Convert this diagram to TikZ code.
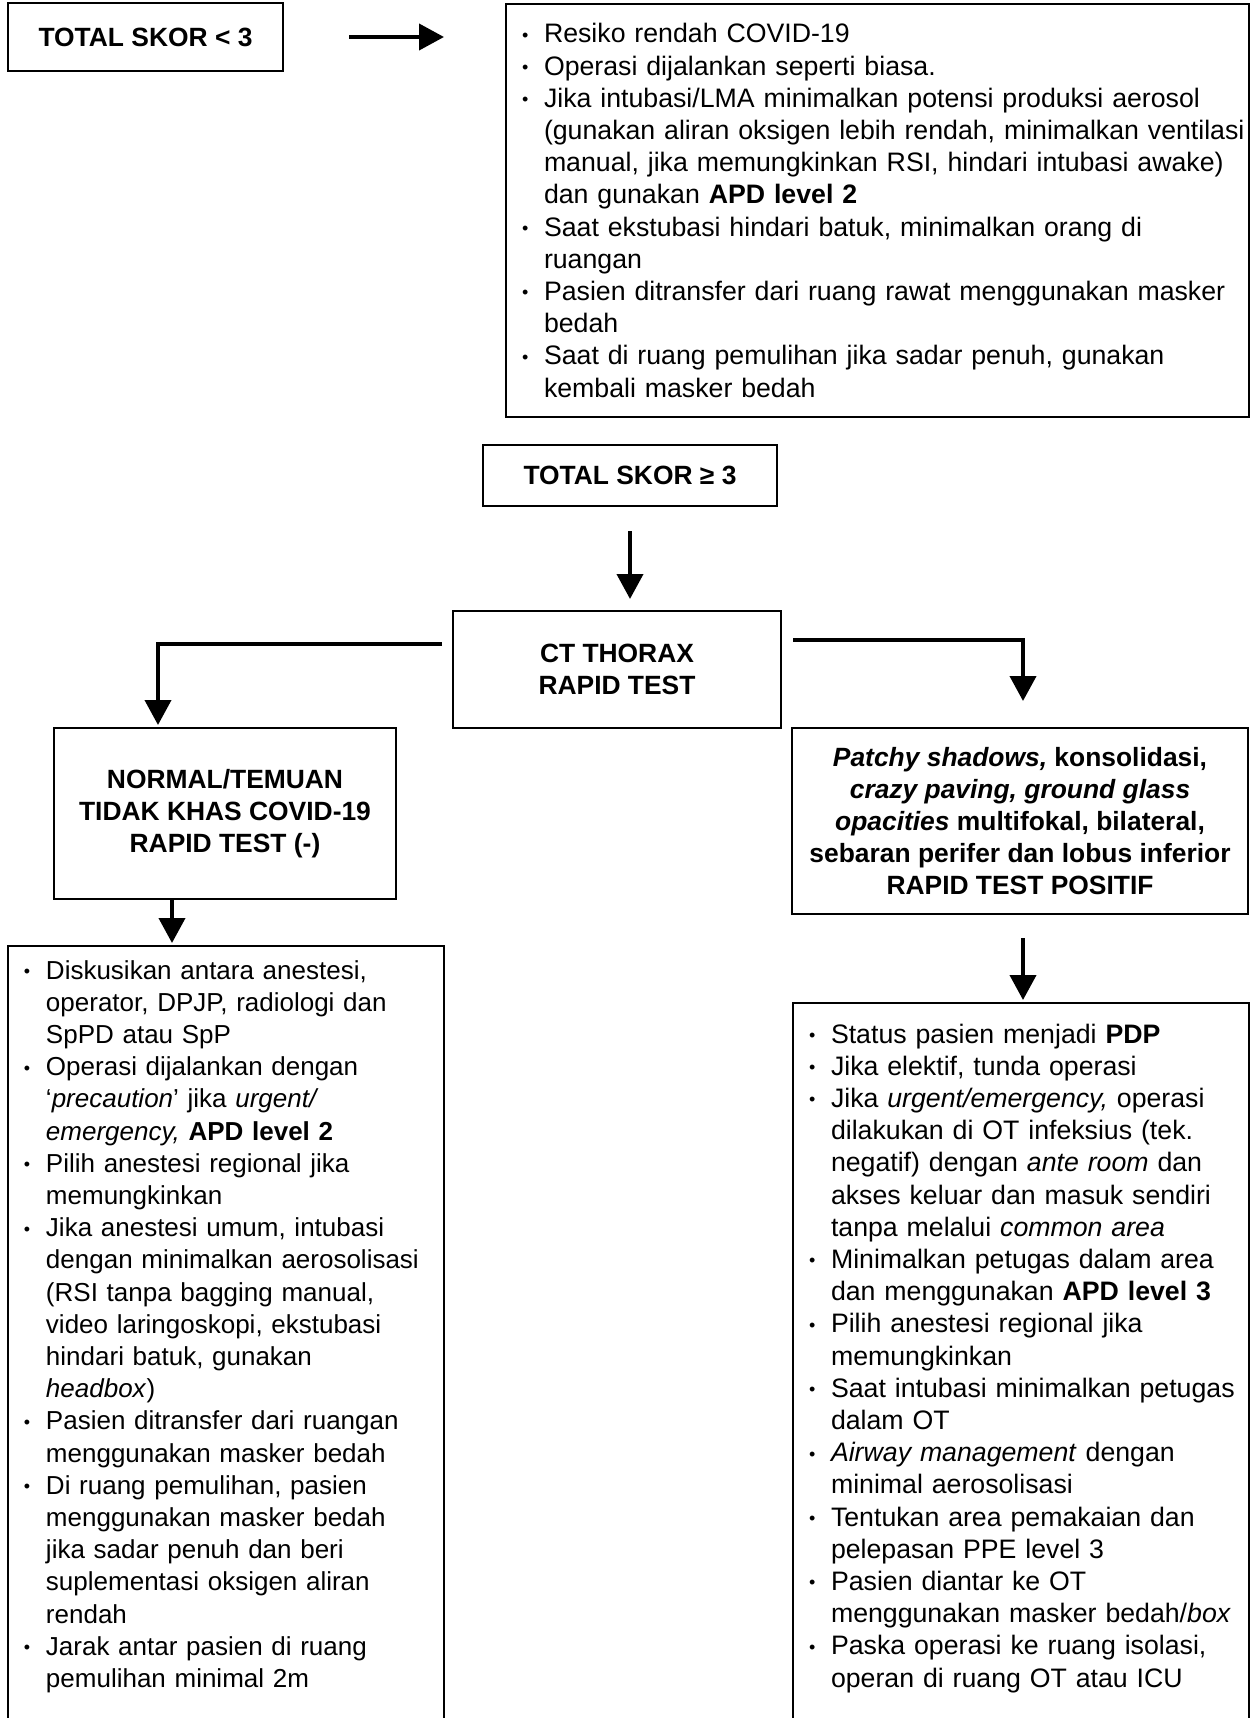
\documentclass[tikz,border=0pt]{standalone}
\usepackage{fontspec}
\setmainfont{Liberation Sans}
\usetikzlibrary{arrows.meta}

\newcommand{\listfont}{\fontsize{13.35pt}{16.1pt}\selectfont}
\newcommand{\headfont}{\fontsize{13.2pt}{16pt}\selectfont\bfseries}
\newcommand{\bul}{\makebox[11pt][l]{\raisebox{0.8pt}{\small\textbullet}}}

\tikzset{
  headbox/.style={draw, line width=1pt, align=center, font=\headfont, inner sep=0pt},
  listbox/.style={draw, line width=1pt, anchor=north west, align=left, font=\listfont, inner xsep=8pt, inner ysep=0pt},
  flow/.style={line width=2pt, -{Triangle[length=12.5pt,width=13pt]}},
}

\begin{document}
\begin{tikzpicture}[x=0.5pt, y=-0.5pt]
\useasboundingbox (0,0) rectangle (1251,1718);

% score below three
\node[headbox, minimum width=137.5pt, minimum height=34pt] (skorlow) at (145.5,37) {TOTAL SKOR < 3};

\node[listbox, text width=355.5pt, text height=19.5pt, text depth=187pt] (lowlist) at (505,3) {\noindent
\begin{tabular}[t]{@{}l@{}l@{}}
\bul & Resiko rendah COVID-19\\
\bul & Operasi dijalankan seperti biasa.\\
\bul & Jika intubasi/LMA minimalkan potensi produksi aerosol\\
     & (gunakan aliran oksigen lebih rendah, minimalkan ventilasi\\
     & manual, jika memungkinkan RSI, hindari intubasi awake)\\
     & dan gunakan \textbf{APD level 2}\\
\bul & Saat ekstubasi hindari batuk, minimalkan orang di\\
     & ruangan\\
\bul & Pasien ditransfer dari ruang rawat menggunakan masker\\
     & bedah\\
\bul & Saat di ruang pemulihan jika sadar penuh, gunakan\\
     & kembali masker bedah
\end{tabular}};

% score three or more
\node[headbox, minimum width=147pt, minimum height=30.5pt] (skorhigh) at (630,475.5) {TOTAL SKOR ≥ 3};
\node[headbox, minimum width=164pt, minimum height=58.5pt] (ct) at (617,669.5) {CT THORAX\\RAPID TEST};

\node[headbox, minimum width=171pt, minimum height=85.5pt] (normal) at (225,813.5) {NORMAL/TEMUAN\\TIDAK KHAS COVID-19\\RAPID TEST (-)};
\node[headbox, minimum width=228pt, minimum height=93pt] (positif) at (1020,821) {\textit{Patchy shadows,} konsolidasi,\\\textit{crazy paving, ground glass}\\\textit{opacities} multifokal, bilateral,\\sebaran perifer dan lobus inferior\\RAPID TEST POSITIF};

\node[listbox, font=\fontsize{13pt}{16.1pt}\selectfont, text width=202pt, text height=16.5pt, text depth=370pt] (normlist) at (7,945) {\noindent
\begin{tabular}[t]{@{}l@{}l@{}}
\bul & Diskusikan antara anestesi,\\
     & operator, DPJP, radiologi dan\\
     & SpPD atau SpP\\
\bul & Operasi dijalankan dengan\\
     & ‘\textit{precaution}’ jika \textit{urgent/}\\
     & \textit{emergency,} \textbf{APD level 2}\\
\bul & Pilih anestesi regional jika\\
     & memungkinkan\\
\bul & Jika anestesi umum, intubasi\\
     & dengan minimalkan aerosolisasi\\
     & (RSI tanpa bagging manual,\\
     & video laringoskopi, ekstubasi\\
     & hindari batuk, gunakan\\
     & \textit{headbox})\\
\bul & Pasien ditransfer dari ruangan\\
     & menggunakan masker bedah\\
\bul & Di ruang pemulihan, pasien\\
     & menggunakan masker bedah\\
     & jika sadar penuh dan beri\\
     & suplementasi oksigen aliran\\
     & rendah\\
\bul & Jarak antar pasien di ruang\\
     & pemulihan minimal 2m
\end{tabular}};

\node[listbox, text width=212pt, text height=20pt, text depth=338pt] (poslist) at (792,1002) {\noindent
\begin{tabular}[t]{@{}l@{}l@{}}
\bul & Status pasien menjadi \textbf{PDP}\\
\bul & Jika elektif, tunda operasi\\
\bul & Jika \textit{urgent/emergency,} operasi\\
     & dilakukan di OT infeksius (tek.\\
     & negatif) dengan \textit{ante room} dan\\
     & akses keluar dan masuk sendiri\\
     & tanpa melalui \textit{common area}\\
\bul & Minimalkan petugas dalam area\\
     & dan menggunakan \textbf{APD level 3}\\
\bul & Pilih anestesi regional jika\\
     & memungkinkan\\
\bul & Saat intubasi minimalkan petugas\\
     & dalam OT\\
\bul & \textit{Airway management} dengan\\
     & minimal aerosolisasi\\
\bul & Tentukan area pemakaian dan\\
     & pelepasan PPE level 3\\
\bul & Pasien diantar ke OT\\
     & menggunakan masker bedah/\textit{box}\\
\bul & Paska operasi ke ruang isolasi,\\
     & operan di ruang OT atau ICU
\end{tabular}};

% arrows
\draw[flow, shorten <=32.5pt, shorten >=30.5pt] (skorlow.east) -- (lowlist.west |- skorlow.east);
\draw[flow, shorten <=12pt, shorten >=5.5pt] (skorhigh.south) -- (ct.north -| skorhigh.south);
\draw[flow, shorten <=5pt, shorten >=1pt] ([yshift=12.75pt]ct.west) -| ([xshift=-33.5pt]normal.north);
\draw[flow, shorten <=5.5pt, shorten >=13pt] ([yshift=14.75pt]ct.east) -| ([xshift=1.5pt]positif.north);
\draw[flow, shorten >=1pt] ([xshift=-26.5pt]normal.south) -- ([xshift=-26.5pt]normal.south |- normlist.north);
\draw[flow, shorten <=11.5pt, shorten >=1pt] ([xshift=1.5pt]positif.south) -- ([xshift=1.5pt]positif.south |- poslist.north);

\end{tikzpicture}
\end{document}
